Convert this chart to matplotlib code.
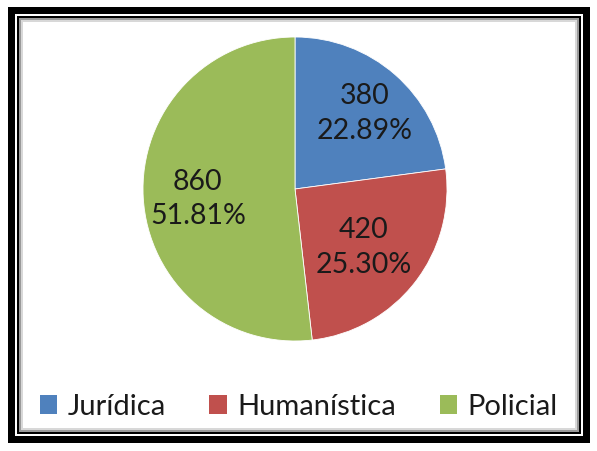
import matplotlib.pyplot as plt
from matplotlib.patches import Rectangle, Patch
import numpy as np

# Data
categories = ['Jurídica', 'Humanística', 'Policial']
values = [380, 420, 860]
colors = ['#4F81BD', '#C0504D', '#9BBB59']
label_r = [0.70, 0.575, 0.64]

plt.rcParams['font.family'] = ['Lato', 'DejaVu Sans']

W, H = 597, 451
fig = plt.figure(figsize=(W / 100, H / 100), dpi=100)
fig.patch.set_facecolor('white')

def px_rect(x0, y0, x1, y1, **kw):
	# rectangle given in pixel coords (y from top)
	r = Rectangle((x0 / W, 1 - y1 / H), (x1 - x0) / W, (y1 - y0) / H,
		transform=fig.transFigure, zorder=-10, **kw)
	fig.patches.append(r)

# Frame: thick black, white gap, thin black, grey shadow
px_rect(8, 7, 590, 443, facecolor='black', edgecolor='none')
px_rect(15, 14, 583, 436, facecolor='white', edgecolor='none')
px_rect(17, 16, 581, 434, facecolor='black', edgecolor='none')
px_rect(19, 18, 579, 432, facecolor='#9a9a9a', edgecolor='none')
px_rect(21, 20, 577, 430, facecolor='#d8d8d8', edgecolor='none')
px_rect(23, 22, 575, 428, facecolor='white', edgecolor='none')

# Pie axes: center (295,189), radius 152 px
cx, cy, r = 295, 189, 152
ax = fig.add_axes([(cx - r) / W, 1 - (cy + r) / H, 2 * r / W, 2 * r / H])
ax.set_zorder(5)
ax.patch.set_alpha(0)
wedges, _ = ax.pie(values, colors=colors, startangle=90, counterclock=False,
	wedgeprops=dict(edgecolor='white', linewidth=0.6))
ax.set_xlim(-1, 1)
ax.set_ylim(-1, 1)
ax.set_aspect('auto')

total = sum(values)
for w, v, lr in zip(wedges, values, label_r):
	ang = np.deg2rad((w.theta1 + w.theta2) / 2)
	ax.text(lr * np.cos(ang), lr * np.sin(ang) - 0.03, '%d\n%.2f%%' % (v, 100 * v / total),
		ha='center', va='center', fontsize=20.5, color='#1a1a1a', linespacing=1.4)

# Legend
handles = [Patch(facecolor=c, edgecolor='none') for c in colors]
leg = fig.legend(handles, categories, loc='center', bbox_to_anchor=(0.5, 1 - 407 / H),
	ncol=3, frameon=False, fontsize=21, handlelength=0.6, handleheight=0.6,
	handletextpad=0.35, columnspacing=1.5, labelcolor='#1a1a1a')
leg.set_zorder(6)

fig.savefig('out.png', dpi=100)
